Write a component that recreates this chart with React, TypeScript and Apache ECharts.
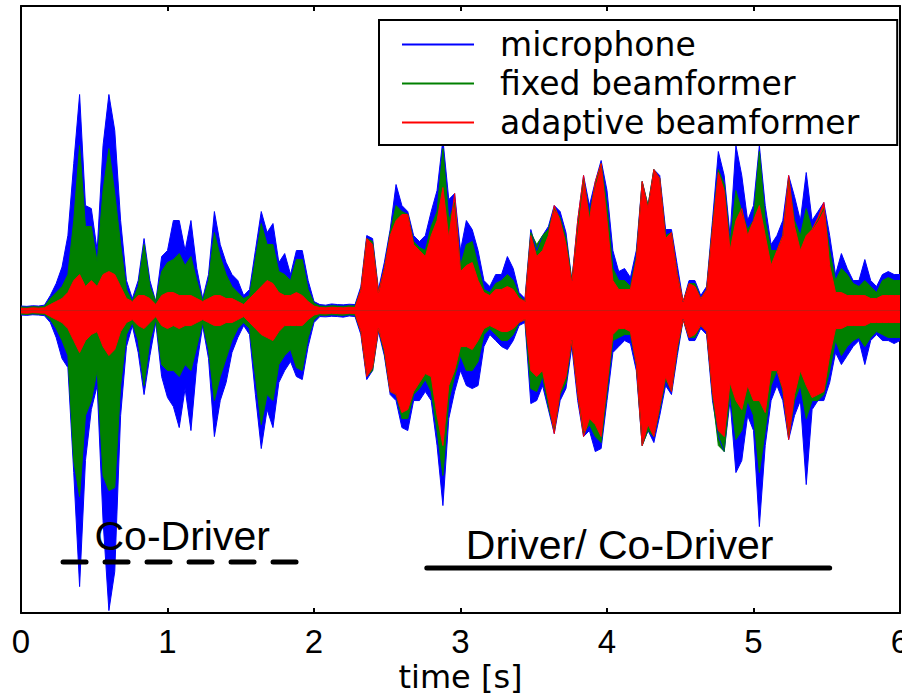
import React, { useEffect, useRef } from "react";
import * as echarts from "echarts";

// sampling step of the envelope arrays, seconds
const DT = 0.04;
const SERIES_NAMES = ["microphone", "fixed beamformer", "adaptive beamformer"];
const SERIES_COLORS = ["#0000ff", "#008000", "#ff0000"];

// upper / lower envelopes of each signal, one value every DT seconds (0 .. 6 s)
const microphoneUp = [
  0.015, 0.014, 0.016, 0.015, 0.018, 0.05, 0.09, 0.145, 0.25, 0.49,
  0.72, 0.35, 0.34, 0.2, 0.55, 0.72, 0.6, 0.3, 0.1, 0.04,
  0.1, 0.24, 0.1, 0.03, 0.18, 0.2, 0.3, 0.3, 0.2, 0.3,
  0.14, 0.04, 0.12, 0.33, 0.22, 0.16, 0.12, 0.1, 0.05, 0.07,
  0.2, 0.33, 0.26, 0.29, 0.16, 0.19, 0.12, 0.2, 0.2, 0.1,
  0.03, 0.02, 0.018, 0.022, 0.02, 0.019, 0.021, 0.02, 0.08, 0.25,
  0.24, 0.07, 0.16, 0.27, 0.42, 0.35, 0.33, 0.25, 0.23, 0.25,
  0.33, 0.4, 0.57, 0.37, 0.39, 0.2, 0.3, 0.27, 0.2, 0.1,
  0.08, 0.12, 0.12, 0.18, 0.14, 0.06, 0.04, 0.27, 0.2, 0.25,
  0.28, 0.35, 0.33, 0.26, 0.1, 0.3, 0.45, 0.35, 0.43, 0.5,
  0.4, 0.2, 0.13, 0.14, 0.11, 0.2, 0.43, 0.35, 0.47, 0.45,
  0.27, 0.27, 0.15, 0.03, 0.1, 0.1, 0.05, 0.08, 0.3, 0.53,
  0.45, 0.25, 0.55, 0.45, 0.3, 0.35, 0.55, 0.35, 0.22, 0.25,
  0.3, 0.45, 0.38, 0.3, 0.46, 0.3, 0.33, 0.36, 0.25, 0.12,
  0.19, 0.14, 0.1, 0.1, 0.17, 0.1, 0.08, 0.12, 0.13, 0.12,
  0.12,
];
const microphoneLo = [
  -0.015, -0.016, -0.014, -0.015, -0.017, -0.04, -0.09, -0.16, -0.19, -0.54,
  -0.92, -0.5, -0.33, -0.25, -0.7, -1.0, -0.87, -0.35, -0.12, -0.05,
  -0.14, -0.28, -0.15, -0.04, -0.22, -0.29, -0.32, -0.39, -0.26, -0.4,
  -0.18, -0.05, -0.16, -0.42, -0.3, -0.24, -0.14, -0.09, -0.05, -0.08,
  -0.28, -0.46, -0.33, -0.39, -0.24, -0.2, -0.17, -0.22, -0.23, -0.12,
  -0.04, -0.02, -0.021, -0.019, -0.02, -0.022, -0.018, -0.02, -0.08, -0.23,
  -0.2, -0.07, -0.15, -0.28, -0.3, -0.39, -0.4, -0.3, -0.3, -0.27,
  -0.3, -0.45, -0.65, -0.36, -0.27, -0.2, -0.25, -0.26, -0.25, -0.12,
  -0.08, -0.1, -0.12, -0.13, -0.1, -0.05, -0.04, -0.31, -0.3, -0.25,
  -0.33, -0.41, -0.3, -0.26, -0.12, -0.3, -0.42, -0.4, -0.47, -0.46,
  -0.3, -0.14, -0.12, -0.1, -0.11, -0.2, -0.45, -0.4, -0.44, -0.35,
  -0.25, -0.28, -0.15, -0.03, -0.1, -0.1, -0.06, -0.08, -0.3, -0.42,
  -0.47, -0.3, -0.54, -0.5, -0.35, -0.4, -0.72, -0.45, -0.3, -0.25,
  -0.3, -0.43, -0.35, -0.3, -0.58, -0.33, -0.3, -0.3, -0.24, -0.14,
  -0.18, -0.15, -0.12, -0.1, -0.18, -0.1, -0.08, -0.1, -0.1, -0.11,
  -0.1,
];
const fixedUp = [
  0.012, 0.011, 0.013, 0.012, 0.014, 0.04, 0.06, 0.08, 0.12, 0.3,
  0.55, 0.28, 0.28, 0.16, 0.4, 0.54, 0.39, 0.22, 0.07, 0.03,
  0.08, 0.22, 0.08, 0.03, 0.13, 0.16, 0.17, 0.19, 0.15, 0.18,
  0.1, 0.03, 0.1, 0.26, 0.18, 0.12, 0.08, 0.06, 0.04, 0.05,
  0.17, 0.29, 0.22, 0.22, 0.13, 0.12, 0.1, 0.17, 0.17, 0.07,
  0.025, 0.015, 0.014, 0.016, 0.015, 0.014, 0.016, 0.015, 0.07, 0.24,
  0.23, 0.06, 0.14, 0.26, 0.35, 0.33, 0.32, 0.23, 0.21, 0.2,
  0.28, 0.33, 0.54, 0.3, 0.36, 0.15, 0.22, 0.23, 0.15, 0.07,
  0.06, 0.09, 0.1, 0.12, 0.1, 0.05, 0.03, 0.26, 0.22, 0.25,
  0.27, 0.34, 0.31, 0.24, 0.1, 0.28, 0.44, 0.32, 0.42, 0.49,
  0.35, 0.14, 0.1, 0.1, 0.08, 0.18, 0.43, 0.35, 0.47, 0.44,
  0.25, 0.26, 0.12, 0.03, 0.09, 0.09, 0.04, 0.07, 0.28, 0.47,
  0.42, 0.22, 0.4, 0.33, 0.27, 0.3, 0.53, 0.3, 0.2, 0.2,
  0.25, 0.44, 0.3, 0.25, 0.34, 0.27, 0.3, 0.34, 0.2, 0.1,
  0.14, 0.12, 0.09, 0.08, 0.1, 0.08, 0.06, 0.1, 0.11, 0.1,
  0.1,
];
const fixedLo = [
  -0.012, -0.013, -0.011, -0.012, -0.013, -0.03, -0.06, -0.1, -0.15, -0.5,
  -0.62, -0.35, -0.3, -0.2, -0.55, -0.6, -0.59, -0.25, -0.08, -0.04,
  -0.1, -0.25, -0.1, -0.03, -0.18, -0.2, -0.2, -0.22, -0.18, -0.2,
  -0.12, -0.04, -0.13, -0.3, -0.22, -0.16, -0.1, -0.06, -0.04, -0.06,
  -0.22, -0.38, -0.28, -0.3, -0.18, -0.15, -0.13, -0.19, -0.2, -0.09,
  -0.03, -0.015, -0.016, -0.014, -0.015, -0.016, -0.014, -0.015, -0.07, -0.22,
  -0.2, -0.06, -0.14, -0.27, -0.28, -0.36, -0.36, -0.28, -0.26, -0.23,
  -0.27, -0.4, -0.55, -0.3, -0.22, -0.15, -0.2, -0.2, -0.17, -0.08,
  -0.06, -0.08, -0.1, -0.1, -0.08, -0.04, -0.03, -0.26, -0.27, -0.22,
  -0.32, -0.4, -0.28, -0.24, -0.1, -0.28, -0.41, -0.38, -0.42, -0.44,
  -0.27, -0.1, -0.09, -0.08, -0.08, -0.18, -0.45, -0.4, -0.42, -0.33,
  -0.23, -0.27, -0.13, -0.03, -0.09, -0.09, -0.05, -0.07, -0.28, -0.45,
  -0.47, -0.27, -0.43, -0.4, -0.3, -0.35, -0.54, -0.4, -0.25, -0.2,
  -0.27, -0.42, -0.3, -0.25, -0.36, -0.3, -0.3, -0.28, -0.2, -0.1,
  -0.15, -0.12, -0.1, -0.09, -0.12, -0.09, -0.07, -0.08, -0.09, -0.09,
  -0.09,
];
const adaptiveUp = [
  0.008, 0.007, 0.009, 0.008, 0.009, 0.02, 0.03, 0.04, 0.06, 0.1,
  0.12, 0.08, 0.1, 0.08, 0.12, 0.13, 0.12, 0.08, 0.04, 0.03,
  0.05, 0.05, 0.04, 0.02, 0.05, 0.06, 0.06, 0.05, 0.05, 0.05,
  0.04, 0.03, 0.04, 0.05, 0.05, 0.04, 0.04, 0.03, 0.02, 0.04,
  0.06, 0.08, 0.1, 0.09, 0.06, 0.05, 0.05, 0.06, 0.05, 0.03,
  0.015, 0.01, 0.009, 0.011, 0.01, 0.009, 0.011, 0.01, 0.07, 0.24,
  0.22, 0.06, 0.14, 0.25, 0.3, 0.32, 0.32, 0.22, 0.2, 0.18,
  0.25, 0.3, 0.41, 0.24, 0.39, 0.13, 0.15, 0.16, 0.1, 0.06,
  0.05, 0.07, 0.07, 0.08, 0.07, 0.04, 0.03, 0.25, 0.18, 0.2,
  0.25, 0.35, 0.3, 0.22, 0.09, 0.3, 0.45, 0.3, 0.43, 0.49,
  0.3, 0.1, 0.07, 0.07, 0.07, 0.17, 0.43, 0.34, 0.47, 0.44,
  0.24, 0.26, 0.12, 0.03, 0.09, 0.08, 0.04, 0.07, 0.27, 0.46,
  0.4, 0.2, 0.3, 0.34, 0.25, 0.3, 0.35, 0.25, 0.15, 0.2,
  0.25, 0.45, 0.28, 0.2, 0.25, 0.27, 0.31, 0.36, 0.15, 0.06,
  0.06, 0.05, 0.05, 0.05, 0.05, 0.04, 0.04, 0.05, 0.05, 0.05,
  0.05,
];
const adaptiveLo = [
  -0.008, -0.009, -0.007, -0.008, -0.009, -0.02, -0.03, -0.04, -0.06, -0.1,
  -0.14, -0.1, -0.08, -0.07, -0.12, -0.15, -0.13, -0.07, -0.04, -0.03,
  -0.05, -0.06, -0.04, -0.02, -0.05, -0.06, -0.05, -0.06, -0.05, -0.05,
  -0.04, -0.03, -0.04, -0.05, -0.05, -0.04, -0.04, -0.03, -0.02, -0.04,
  -0.06, -0.08, -0.09, -0.1, -0.07, -0.05, -0.05, -0.05, -0.05, -0.03,
  -0.015, -0.01, -0.011, -0.009, -0.01, -0.011, -0.009, -0.01, -0.07, -0.22,
  -0.19, -0.06, -0.13, -0.27, -0.28, -0.34, -0.33, -0.27, -0.24, -0.21,
  -0.22, -0.35, -0.45, -0.25, -0.2, -0.12, -0.12, -0.13, -0.1, -0.06,
  -0.05, -0.06, -0.07, -0.07, -0.06, -0.04, -0.03, -0.2, -0.22, -0.2,
  -0.3, -0.41, -0.27, -0.22, -0.1, -0.28, -0.42, -0.36, -0.38, -0.42,
  -0.25, -0.08, -0.06, -0.06, -0.07, -0.18, -0.45, -0.38, -0.42, -0.32,
  -0.22, -0.27, -0.12, -0.03, -0.09, -0.08, -0.05, -0.07, -0.27, -0.4,
  -0.42, -0.24, -0.3, -0.33, -0.25, -0.3, -0.3, -0.34, -0.2, -0.2,
  -0.26, -0.43, -0.28, -0.2, -0.25, -0.29, -0.28, -0.27, -0.15, -0.06,
  -0.06, -0.05, -0.05, -0.05, -0.05, -0.04, -0.04, -0.04, -0.04, -0.04,
  -0.04,
];

// x-axis
const X_MIN = 0;
const X_MAX = 6;
const X_INTERVAL = 1;
const Y_MIN = -1.008;
const Y_MAX = 1.015;

// speaker annotations: bar ends [t, level], label anchor [t, level]
const coDriverBar = [[0.287, -0.838], [1.904, -0.838]];
const coDriverLabel = { text: "Co-Driver", coord: [0.505, -0.822] };
const driverBar = [[2.77, -0.858], [5.52, -0.858]];
const driverLabel = { text: "Driver/ Co-Driver", coord: [3.04, -0.852] };

const toPairs = (vals: number[]) => vals.map((v, i) => [Number((i * DT).toFixed(2)), v]);

export default function App() {
  const ref = useRef<HTMLDivElement | null>(null);

  useEffect(() => {
    if (!ref.current) return;
    const chart = echarts.init(ref.current, null, { renderer: "svg" });

    const envelopes: [number, number[]][] = [
      [0, microphoneUp],
      [0, microphoneLo],
      [1, fixedUp],
      [1, fixedLo],
      [2, adaptiveUp],
      [2, adaptiveLo],
    ];

    const envSeries = envelopes.map(([k, vals]) => ({
      type: "line",
      name: SERIES_NAMES[k],
      data: toPairs(vals),
      symbol: "none",
      showSymbol: false,
      silent: true,
      color: SERIES_COLORS[k],
      lineStyle: { color: SERIES_COLORS[k], width: 1 },
      itemStyle: { color: SERIES_COLORS[k] },
      areaStyle: { color: SERIES_COLORS[k], opacity: 1 },
      z: 2,
    }));

    const labelStyle = {
      show: true,
      formatter: "{b}",
      position: [0, 0],
      align: "left",
      verticalAlign: "bottom",
      fontSize: 41,
      lineHeight: 41,
      fontFamily: "Liberation Sans, Arial, sans-serif",
      color: "#000",
    };

    const annotationSeries = [
      {
        type: "line",
        name: "co-driver-bar",
        data: coDriverBar,
        symbol: "none",
        silent: true,
        lineStyle: { color: "#000", width: 5, type: [23, 19], cap: "round" },
        z: 5,
        markPoint: {
          symbol: "circle",
          symbolSize: 1,
          itemStyle: { color: "rgba(0,0,0,0)" },
          label: labelStyle,
          data: [{ name: coDriverLabel.text, coord: coDriverLabel.coord }],
        },
      },
      {
        type: "line",
        name: "driver-bar",
        data: driverBar,
        symbol: "none",
        silent: true,
        lineStyle: { color: "#000", width: 5, cap: "round" },
        z: 5,
        markPoint: {
          symbol: "circle",
          symbolSize: 1,
          itemStyle: { color: "rgba(0,0,0,0)" },
          label: labelStyle,
          data: [{ name: driverLabel.text, coord: driverLabel.coord }],
        },
      },
    ];

    const axisLineStyle = { color: "#000", width: 2 };

    chart.setOption({
      animation: false,
      backgroundColor: "#fff",
      grid: {
        left: 21,
        right: 2,
        top: 6,
        bottom: 82,
        containLabel: false,
        outerBoundsMode: "none",
      },
      legend: {
        data: SERIES_NAMES,
        orient: "vertical",
        left: 379,
        top: 20,
        padding: [5, 38, 3, 23],
        itemGap: 0,
        itemWidth: 72,
        itemHeight: 2,
        icon: "rect",
        selectedMode: false,
        backgroundColor: "#fff",
        borderColor: "#000",
        borderWidth: 2,
        borderRadius: 0,
        z: 10,
        textStyle: {
          fontFamily: "DejaVu Sans, sans-serif",
          fontSize: 33,
          lineHeight: 39,
          color: "#000",
          padding: [0, 0, 0, 21],
        },
      },
      xAxis: [
        {
          type: "value",
          min: X_MIN,
          max: X_MAX,
          interval: X_INTERVAL,
          position: "bottom",
          axisLine: { show: true, onZero: false, lineStyle: axisLineStyle },
          axisTick: { show: true, inside: true, length: 5, lineStyle: axisLineStyle },
          axisLabel: {
            color: "#000",
            fontSize: 33,
            lineHeight: 33,
            fontFamily: "Liberation Sans, Arial, sans-serif",
            margin: 12,
          },
          splitLine: { show: false },
          name: "time [s]",
          nameLocation: "middle",
          nameGap: 49,
          nameMoveOverlap: false,
          nameTextStyle: {
            fontSize: 32,
            lineHeight: 30,
            fontFamily: "DejaVu Sans, sans-serif",
            color: "#000",
          },
        },
        {
          type: "value",
          min: X_MIN,
          max: X_MAX,
          interval: X_INTERVAL,
          position: "top",
          axisLine: { show: true, onZero: false, lineStyle: axisLineStyle },
          axisTick: { show: true, inside: true, length: 5, lineStyle: axisLineStyle },
          axisLabel: { show: false },
          splitLine: { show: false },
        },
      ],
      yAxis: [
        {
          type: "value",
          min: Y_MIN,
          max: Y_MAX,
          position: "left",
          axisLine: { show: true, onZero: false, lineStyle: axisLineStyle },
          axisTick: { show: false },
          axisLabel: { show: false },
          splitLine: { show: false },
        },
        {
          type: "value",
          min: Y_MIN,
          max: Y_MAX,
          position: "right",
          axisLine: { show: true, onZero: false, lineStyle: axisLineStyle },
          axisTick: { show: false },
          axisLabel: { show: false },
          splitLine: { show: false },
        },
      ],
      series: [...envSeries, ...annotationSeries],
    });

    return () => chart.dispose();
  }, []);

  return (
    <div
      ref={ref}
      style={{ position: "fixed", left: 0, top: 0, width: 902, height: 695, background: "#fff" }}
    />
  );
}
